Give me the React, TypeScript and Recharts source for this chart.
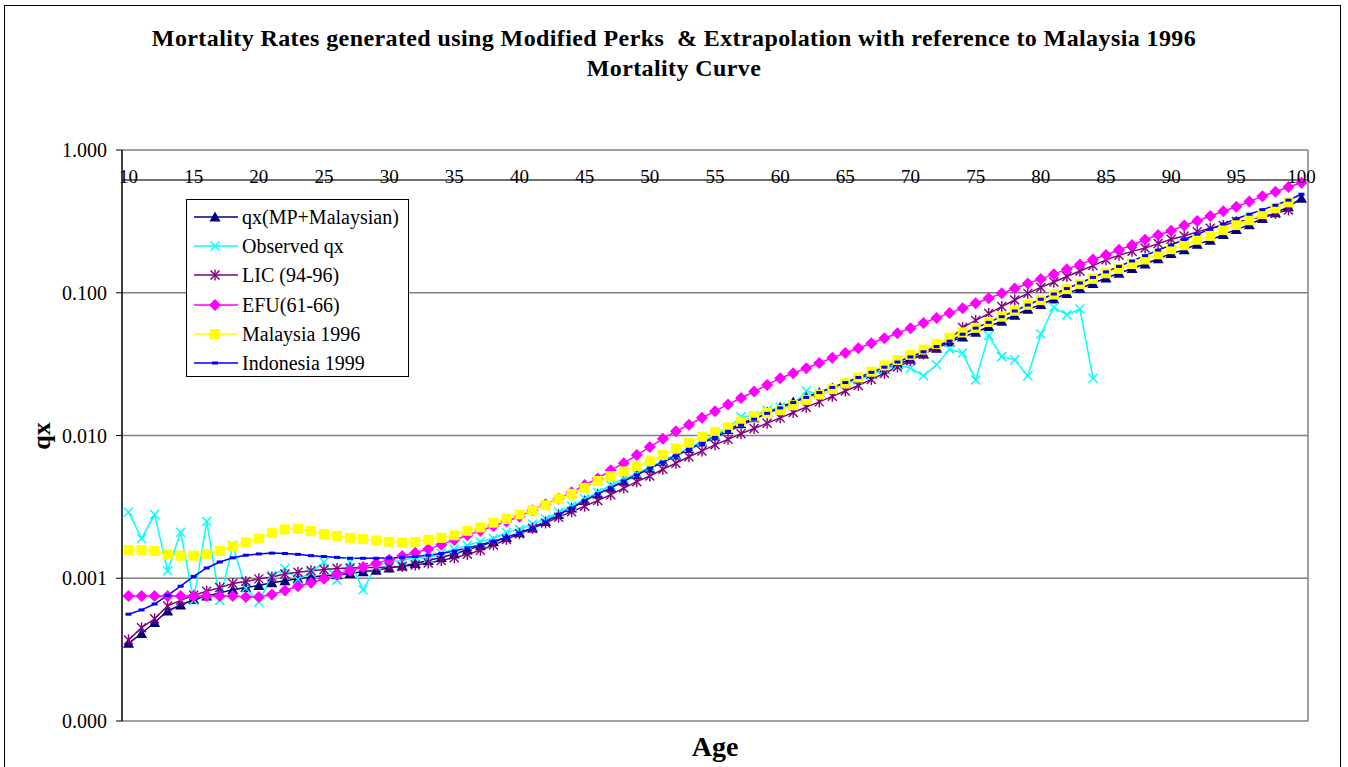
import React from 'react';
import { LineChart, Line, XAxis, YAxis, CartesianGrid, ReferenceLine } from 'recharts';

const ages = [10, 11, 12, 13, 14, 15, 16, 17, 18, 19, 20, 21, 22, 23, 24, 25, 26, 27, 28, 29, 30, 31, 32, 33, 34, 35, 36, 37, 38, 39, 40, 41, 42, 43, 44, 45, 46, 47, 48, 49, 50, 51, 52, 53, 54, 55, 56, 57, 58, 59, 60, 61, 62, 63, 64, 65, 66, 67, 68, 69, 70, 71, 72, 73, 74, 75, 76, 77, 78, 79, 80, 81, 82, 83, 84, 85, 86, 87, 88, 89, 90, 91, 92, 93, 94, 95, 96, 97, 98, 99, 100];

const ageLabels = [10, 15, 20, 25, 30, 35, 40, 45, 50, 55, 60, 65, 70, 75, 80, 85, 90, 95, 100];
const qxTicks = [0.0001, 0.001, 0.01, 0.1, 1];

// qx(MP+Malaysian), ages 10-100
const qxMP = [0.00035, 0.00041, 0.00049, 0.00059, 0.00065, 0.00071, 0.00075, 0.00079, 0.00083, 0.00086, 0.00089, 0.00093, 0.00096, 0.00099, 0.00102, 0.00104, 0.00106, 0.00108, 0.00111, 0.00114, 0.00118, 0.00122, 0.00127, 0.00133, 0.0014, 0.00148, 0.00158, 0.00169, 0.0018, 0.00193, 0.00208, 0.00225, 0.0025, 0.0028, 0.0031, 0.0035, 0.0039, 0.0043, 0.0048, 0.0053, 0.0059, 0.0066, 0.0073, 0.0081, 0.009, 0.0099, 0.011, 0.0121, 0.0133, 0.0146, 0.0158, 0.0172, 0.0186, 0.02, 0.0215, 0.0232, 0.0249, 0.0268, 0.029, 0.0315, 0.0342, 0.0373, 0.0408, 0.0451, 0.049, 0.0528, 0.058, 0.0632, 0.0696, 0.0765, 0.0826, 0.0904, 0.0986, 0.107, 0.116, 0.127, 0.137, 0.148, 0.159, 0.173, 0.188, 0.2, 0.219, 0.233, 0.256, 0.277, 0.3, 0.331, 0.363, 0.4, 0.46];

// Observed qx, ages 10-84
const observedQx = [0.0029, 0.0019, 0.0028, 0.00113, 0.0021, 0.0007, 0.0025, 0.0007, 0.0017, 0.00085, 0.00068, 0.00105, 0.00117, 0.00098, 0.0011, 0.0013, 0.00097, 0.0013, 0.00083, 0.00122, 0.0013, 0.00133, 0.0014, 0.00138, 0.0015, 0.0016, 0.0017, 0.0018, 0.0019, 0.0021, 0.0022, 0.0024, 0.0026, 0.0029, 0.0032, 0.0036, 0.004, 0.0045, 0.005, 0.0054, 0.006, 0.0066, 0.0073, 0.0082, 0.0091, 0.01, 0.0112, 0.0135, 0.0138, 0.015, 0.0158, 0.0165, 0.0205, 0.0195, 0.021, 0.023, 0.0245, 0.0265, 0.029, 0.031, 0.0297, 0.0262, 0.0313, 0.0402, 0.0378, 0.0245, 0.0501, 0.0357, 0.0339, 0.0262, 0.0514, 0.0792, 0.07, 0.077, 0.0252];

// LIC (94-96), ages 10-99
const lic = [0.00037, 0.00045, 0.00052, 0.00064, 0.0007, 0.00076, 0.00081, 0.00086, 0.00092, 0.00095, 0.00099, 0.00102, 0.00107, 0.0011, 0.00113, 0.00115, 0.00117, 0.00118, 0.00119, 0.00119, 0.0012, 0.00121, 0.00124, 0.00128, 0.00133, 0.00139, 0.00147, 0.00157, 0.00171, 0.00187, 0.00205, 0.00224, 0.00244, 0.00268, 0.00292, 0.0032, 0.0035, 0.00385, 0.00428, 0.00475, 0.0052, 0.0058, 0.0064, 0.0071, 0.0078, 0.0086, 0.0094, 0.0103, 0.0112, 0.0122, 0.0133, 0.0145, 0.0158, 0.0172, 0.0188, 0.0205, 0.0224, 0.0247, 0.0273, 0.0302, 0.0335, 0.0372, 0.0415, 0.047, 0.057, 0.064, 0.0715, 0.08, 0.089, 0.099, 0.109, 0.119, 0.13, 0.142, 0.155, 0.17, 0.183, 0.195, 0.206, 0.221, 0.237, 0.25, 0.267, 0.283, 0.296, 0.315, 0.325, 0.342, 0.36, 0.38];

// EFU (61-66), ages 10-100
const efu = [0.00075, 0.00075, 0.00075, 0.00075, 0.00075, 0.00075, 0.00075, 0.00075, 0.00075, 0.00074, 0.00074, 0.00077, 0.00082, 0.00088, 0.00093, 0.00099, 0.00106, 0.00113, 0.0012, 0.00127, 0.00135, 0.00143, 0.00151, 0.0016, 0.00172, 0.00185, 0.002, 0.00215, 0.00232, 0.0025, 0.0027, 0.003, 0.0033, 0.0036, 0.004, 0.0045, 0.005, 0.0057, 0.0064, 0.0073, 0.0083, 0.0095, 0.0107, 0.0119, 0.0133, 0.0148, 0.0165, 0.0183, 0.0203, 0.0226, 0.0252, 0.0273, 0.0296, 0.0322, 0.035, 0.0378, 0.0409, 0.0443, 0.048, 0.052, 0.0565, 0.0615, 0.0665, 0.072, 0.078, 0.0845, 0.0915, 0.099, 0.107, 0.116, 0.125, 0.135, 0.146, 0.158, 0.171, 0.184, 0.2, 0.216, 0.235, 0.254, 0.272, 0.296, 0.318, 0.345, 0.372, 0.4, 0.435, 0.475, 0.51, 0.55, 0.59];

// Malaysia 1996, ages 10-99
const malaysia = [0.00158, 0.00158, 0.00155, 0.00147, 0.00144, 0.00144, 0.00148, 0.00155, 0.00167, 0.00178, 0.0019, 0.00207, 0.0022, 0.00222, 0.00214, 0.00204, 0.00198, 0.00192, 0.00188, 0.00184, 0.0018, 0.00178, 0.0018, 0.00186, 0.00192, 0.002, 0.00215, 0.00227, 0.00245, 0.0026, 0.0028, 0.003, 0.00325, 0.0036, 0.0039, 0.0043, 0.0048, 0.0052, 0.0056, 0.0061, 0.0066, 0.0073, 0.0081, 0.0089, 0.0098, 0.0106, 0.0114, 0.0125, 0.0136, 0.0144, 0.0151, 0.0163, 0.0178, 0.0194, 0.0212, 0.0232, 0.0255, 0.028, 0.031, 0.0338, 0.0367, 0.04, 0.0438, 0.0485, 0.0527, 0.0568, 0.0624, 0.068, 0.0748, 0.0823, 0.0888, 0.0972, 0.106, 0.115, 0.125, 0.137, 0.147, 0.159, 0.171, 0.186, 0.202, 0.215, 0.235, 0.25, 0.275, 0.298, 0.322, 0.356, 0.39, 0.43];

// Indonesia 1999, ages 10-100
const indonesia = [0.00056, 0.0006, 0.00066, 0.00076, 0.00088, 0.00103, 0.00118, 0.0013, 0.00139, 0.00145, 0.00148, 0.0015, 0.00149, 0.00147, 0.00144, 0.00142, 0.0014, 0.00138, 0.00138, 0.00138, 0.00139, 0.0014, 0.00142, 0.00145, 0.00149, 0.00155, 0.00163, 0.00172, 0.00182, 0.00193, 0.00207, 0.00225, 0.00248, 0.0028, 0.0031, 0.0035, 0.0039, 0.0043, 0.0048, 0.0053, 0.0059, 0.0065, 0.0072, 0.008, 0.0088, 0.0097, 0.0107, 0.0118, 0.013, 0.0143, 0.0156, 0.017, 0.0185, 0.02, 0.0217, 0.0235, 0.0255, 0.0277, 0.0301, 0.0327, 0.0355, 0.0386, 0.042, 0.0458, 0.0512, 0.0565, 0.062, 0.068, 0.0745, 0.082, 0.09, 0.098, 0.107, 0.117, 0.128, 0.14, 0.153, 0.167, 0.182, 0.199, 0.216, 0.236, 0.257, 0.279, 0.303, 0.33, 0.355, 0.382, 0.41, 0.445, 0.49];

const seriesDefs = [
  { key: 'qxMP', name: 'qx(MP+Malaysian)', color: '#000080', shape: 'triangle', values: qxMP },
  { key: 'observed', name: 'Observed qx', color: '#00FFFF', shape: 'x', values: observedQx },
  { key: 'lic', name: 'LIC (94-96)', color: '#800080', shape: 'star', values: lic },
  { key: 'efu', name: 'EFU(61-66)', color: '#FF00FF', shape: 'diamond', values: efu },
  { key: 'malaysia', name: 'Malaysia 1996', color: '#FFFF00', shape: 'square', values: malaysia },
  { key: 'indonesia', name: 'Indonesia 1999', color: '#0000FF', shape: 'dash', values: indonesia },
];

const data = ages.map((age, i) => {
  const row: Record<string, number | null> = { age };
  seriesDefs.forEach((s) => {
    row[s.key] = i < s.values.length ? s.values[i] : null;
  });
  return row;
});

const boundaryTicks = [...ages.map((a) => a - 0.5), ages[ages.length - 1] + 0.5];

const FONT = "'Liberation Serif', 'Times New Roman', serif";

function markerShape(shape: string, color: string, cx: number, cy: number, key?: string) {
  switch (shape) {
    case 'triangle':
      return <polygon key={key} points={`${cx},${cy - 5.5} ${cx + 5.5},${cy + 4.5} ${cx - 5.5},${cy + 4.5}`} fill={color} />;
    case 'x':
      return (
        <g key={key} stroke={color} strokeWidth={1.5}>
          <line x1={cx - 4.5} y1={cy - 4.5} x2={cx + 4.5} y2={cy + 4.5} />
          <line x1={cx - 4.5} y1={cy + 4.5} x2={cx + 4.5} y2={cy - 4.5} />
        </g>
      );
    case 'star':
      return (
        <g key={key} stroke={color} strokeWidth={1.4}>
          <line x1={cx - 4.5} y1={cy - 4.5} x2={cx + 4.5} y2={cy + 4.5} />
          <line x1={cx - 4.5} y1={cy + 4.5} x2={cx + 4.5} y2={cy - 4.5} />
          <line x1={cx} y1={cy - 5.5} x2={cx} y2={cy + 5.5} />
        </g>
      );
    case 'diamond':
      return <polygon key={key} points={`${cx},${cy - 6} ${cx + 6},${cy} ${cx},${cy + 6} ${cx - 6},${cy}`} fill={color} />;
    case 'square':
      return <rect key={key} x={cx - 5} y={cy - 5} width={10} height={10} fill={color} />;
    case 'dash':
    default:
      return <rect key={key} x={cx - 3} y={cy - 1.5} width={6} height={3} fill={color} />;
  }
}

const makeDot = (shape: string, color: string) => (props: any) => {
  const { cx, cy, value, index } = props;
  const k = `dot-${shape}-${index}`;
  if (cx == null || cy == null || value == null || Number.isNaN(cy)) return <g key={k} />;
  return markerShape(shape, color, cx, cy, k);
};

const fmtQx = (v: number) => v.toFixed(3);

const AgeTick = (props: any) => {
  const { x, y, payload } = props;
  return (
    <text x={x} y={y + 12.5} textAnchor="middle" fill="#000" style={{ fontFamily: FONT, fontSize: 19 }}>
      {payload.value}
    </text>
  );
};

const QxTick = (props: any) => {
  const { x, y, payload } = props;
  return (
    <text x={x} y={y + 7} textAnchor="end" fill="#000" style={{ fontFamily: FONT, fontSize: 20 }}>
      {fmtQx(payload.value)}
    </text>
  );
};

export default function App() {
  return (
    <div style={{ position: 'absolute', left: 0, top: 0, width: 1348, height: 767, overflow: 'hidden', background: '#fff', fontFamily: FONT }}>
      <div style={{ position: 'absolute', left: 4, top: 5, width: 1337, height: 800, border: '1px solid #000', boxSizing: 'border-box' }} />
      <div style={{ position: 'absolute', left: 0, top: 23, width: 1348, textAlign: 'center', fontWeight: 'bold', fontSize: 24, letterSpacing: 0.4, lineHeight: '30px', color: '#000' }}>
        <div>Mortality Rates generated using Modified Perks&nbsp; &amp; Extrapolation with reference to Malaysia 1996</div>
        <div>Mortality Curve</div>
      </div>
      <div style={{ position: 'absolute', left: 0, top: 0 }}>
        <LineChart width={1348} height={767} data={data} margin={{ top: 150, right: 40, bottom: 46, left: 62 }} style={{ fontFamily: FONT }}>
          <CartesianGrid xAxisId="t" yAxisId="y" vertical={false} stroke="#808080" strokeWidth={1.5} />
          <XAxis
            xAxisId="t"
            dataKey="age"
            type="number"
            domain={[9.5, 100.5]}
            allowDataOverflow
            orientation="top"
            mirror
            height={1}
            ticks={boundaryTicks}
            interval={0}
            tick={false}
            tickSize={5}
            tickLine={{ stroke: '#000', strokeWidth: 1 }}
            axisLine={{ stroke: '#404040', strokeWidth: 1.5 }}
          />
          <XAxis
            xAxisId="l"
            dataKey="age"
            type="number"
            domain={[9.5, 100.5]}
            allowDataOverflow
            orientation="top"
            mirror
            height={30}
            ticks={ageLabels}
            interval={0}
            axisLine={false}
            tickLine={false}
            tickSize={0}
            tickMargin={20}
            tick={<AgeTick />}
          />
          <YAxis
            yAxisId="y"
            type="number"
            scale="log"
            domain={[0.0001, 1]}
            allowDataOverflow
            ticks={qxTicks}
            interval={0}
            width={60}
            tickFormatter={fmtQx}
            tickSize={6}
            tickMargin={9}
            axisLine={{ stroke: '#000', strokeWidth: 1.5 }}
            tickLine={{ stroke: '#000', strokeWidth: 1 }}
            tick={<QxTick />}
          />
          <ReferenceLine xAxisId="t" yAxisId="y" x={100.5} stroke="#808080" strokeWidth={1.5} />
          {seriesDefs.map((s) => (
            <Line
              key={s.key}
              xAxisId="t"
              yAxisId="y"
              type="linear"
              dataKey={s.key}
              name={s.name}
              stroke={s.color}
              strokeWidth={1.5}
              dot={makeDot(s.shape, s.color)}
              activeDot={false}
              connectNulls={false}
              isAnimationActive={false}
            />
          ))}
        </LineChart>
      </div>
      <div style={{ position: 'absolute', left: 20, top: 422, width: 44, height: 28, textAlign: 'center', fontWeight: 'bold', fontSize: 26, lineHeight: '28px', transform: 'rotate(-90deg)', color: '#000' }}>qx</div>
      <div style={{ position: 'absolute', left: 615, top: 731, width: 200, textAlign: 'center', fontWeight: 'bold', fontSize: 28, lineHeight: '32px', color: '#000' }}>Age</div>
      <div style={{ position: 'absolute', left: 186, top: 199, width: 223, height: 178, border: '1px solid #000', boxSizing: 'border-box', background: '#fff' }}>
        {seriesDefs.map((s, i) => (
          <div key={s.key} style={{ position: 'absolute', left: 0, top: 5 + i * 29.2, height: 24, width: 221 }}>
            <svg width={52} height={24} style={{ position: 'absolute', left: 0, top: 0 }}>
              <line x1={7} y1={12} x2={51} y2={12} stroke={s.color} strokeWidth={1.5} />
              {markerShape(s.shape, s.color, 28, 12)}
            </svg>
            <span style={{ position: 'absolute', left: 55, top: 0, fontSize: 20, lineHeight: '24px', whiteSpace: 'nowrap', color: '#000' }}>{s.name}</span>
          </div>
        ))}
      </div>
    </div>
  );
}
